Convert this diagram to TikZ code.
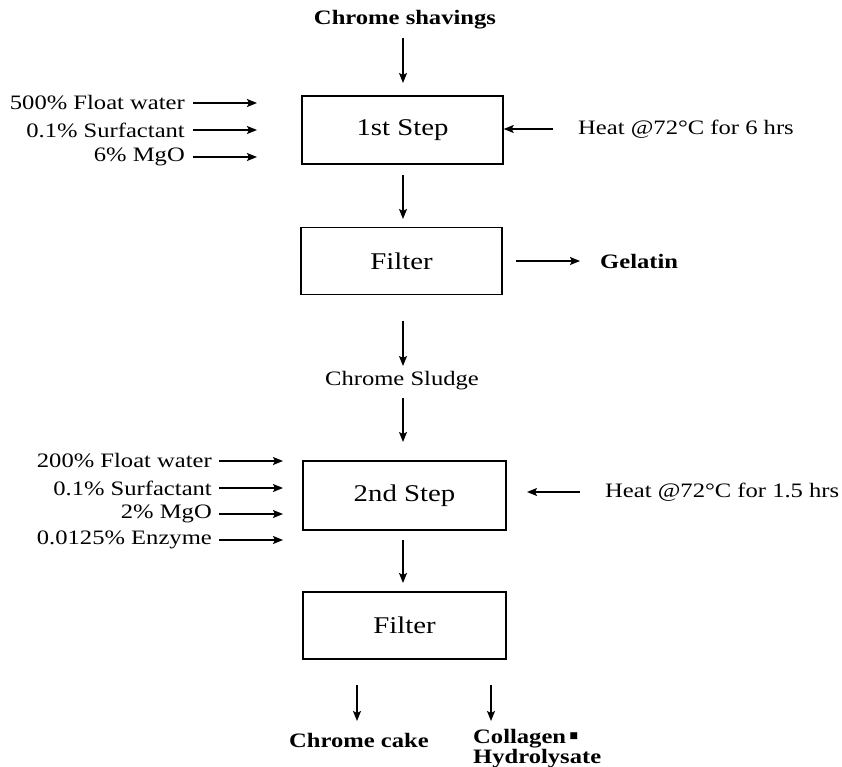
\documentclass[tikz,border=0pt]{standalone}
\usepackage{fontspec}
\setmainfont[FakeStretch=1.2]{Liberation Serif}
\newfontfamily\symfont{DejaVu Sans}
\usetikzlibrary{arrows.meta}
\begin{document}
\begin{tikzpicture}[x=1pt,y=-1pt,
  every node/.style={font=\fontsize{20.5}{20.5}\selectfont, inner sep=0pt},
  boxnode/.style={draw, line width=1.4pt, minimum width=#1, minimum height=67pt, font=\fontsize{24}{24}\selectfont},
  lbl/.style={anchor=east},
  rlbl/.style={anchor=west},
  bold/.style={font=\fontsize{20.5}{20.5}\selectfont\bfseries},
  arr/.style={-{Stealth[length=10pt,width=8pt,inset=2pt]}, line width=1.4pt}]
\useasboundingbox (0,0) rectangle (842,767);

% top
\node[bold] (shav) at (405,20) {Chrome shavings};
\coordinate (a1s) at (403,38);
\coordinate (a1e) at (403,83);
\draw[arr] (a1s) -- (a1e);

\node[boxnode=201pt, minimum height=68pt] (s1) at (402.5,130) {1st Step};
\node[lbl] (i1) at (185,103) {500\% Float water};
\node[lbl] (i2) at (185,130) {0.1\% Surfactant};
\node[lbl] (i3) at (185,157) {6\% MgO};
\coordinate (i1e) at (257,103);
\coordinate (i2e) at (257,130);
\coordinate (i3e) at (257,157);
\draw[arr] (i1.east) ++(8,0) -- (i1e);
\draw[arr] (i2.east) ++(8,0) -- (i2e);
\draw[arr] (i3.east) ++(8,0) -- (i3e);
\node[rlbl] (h1) at (578,129) {Heat @72°C for 6 hrs};
\coordinate (h1s) at (553,129);
\draw[arr] (h1s) -- (s1.east |- h1s);

\coordinate (a2s) at (403,175);
\coordinate (a2e) at (403,219);
\draw[arr] (a2s) -- (a2e);

\node[boxnode=201pt] (f1) at (401.5,261) {Filter};
\coordinate (g1s) at (516,261);
\coordinate (g1e) at (580,261);
\draw[arr] (g1s) -- (g1e);
\node[bold, anchor=west] (gel) at (600,261) {Gelatin};

\coordinate (a3s) at (403,321);
\coordinate (a3e) at (403,366);
\draw[arr] (a3s) -- (a3e);
\node (sl) at (402,381) {Chrome Sludge};
\coordinate (a4s) at (403,398);
\coordinate (a4e) at (403,442);
\draw[arr] (a4s) -- (a4e);

\node[boxnode=203pt, minimum height=69pt] (s2) at (404.5,495.5) {2nd Step};
\node[lbl] (j1) at (212,461) {200\% Float water};
\node[lbl] (j2) at (212,488) {0.1\% Surfactant};
\node[lbl] (j3) at (212,514) {2\% MgO};
\node[lbl] (j4) at (212,540) {0.0125\% Enzyme};
\coordinate (j1e) at (283,461);
\coordinate (j2e) at (283,488);
\coordinate (j3e) at (283,514);
\coordinate (j4e) at (283,540);
\draw[arr] (j1.east) ++(7,0) -- (j1e);
\draw[arr] (j2.east) ++(7,0) -- (j2e);
\draw[arr] (j3.east) ++(7,0) -- (j3e);
\draw[arr] (j4.east) ++(7,0) -- (j4e);
\node[rlbl] (h2) at (605,492) {Heat @72°C for 1.5 hrs};
\coordinate (h2s) at (580,492);
\coordinate (h2e) at (527,492);
\draw[arr] (h2s) -- (h2e);

\coordinate (a5s) at (403,540);
\coordinate (a5e) at (403,583);
\draw[arr] (a5s) -- (a5e);

\node[boxnode=203pt] (f2) at (404.5,625.5) {Filter};

\coordinate (b1s) at (357,685);
\coordinate (b1e) at (357,721);
\coordinate (b2s) at (491,685);
\coordinate (b2e) at (491,721);
\draw[arr] (b1s) -- (b1e);
\draw[arr] (b2s) -- (b2e);
\node[bold] (cake) at (359,740) {Chrome cake};
\node[bold, anchor=north west, align=left, font=\fontsize{20.5}{17}\selectfont\bfseries] (coll) at (473,729) {Collagen\,\raisebox{5pt}{\symfont\fontsize{9}{9}\selectfont ■}\\Hydrolysate};
\end{tikzpicture}
\end{document}
